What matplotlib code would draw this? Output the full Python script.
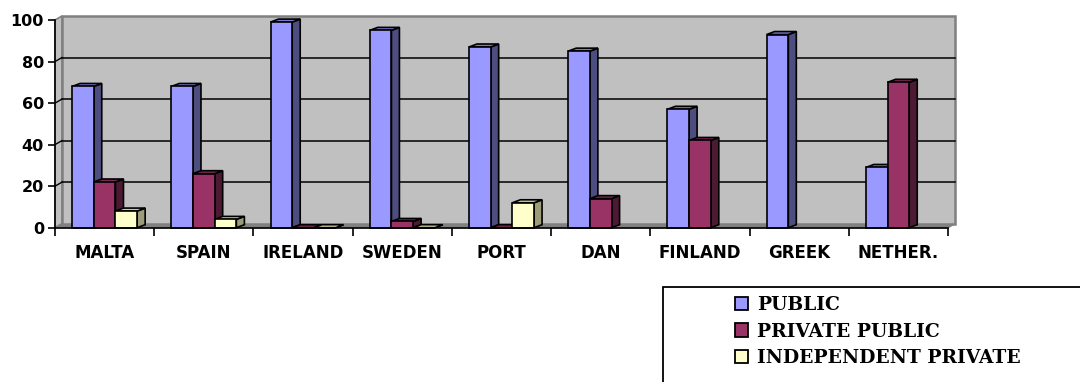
import matplotlib.pyplot as plt
from matplotlib.patches import Polygon, Rectangle, Patch

countries = ["MALTA", "SPAIN", "IRELAND", "SWEDEN", "PORT", "DAN", "FINLAND", "GREEK", "NETHER."]
public = [68, 68, 99, 95, 87, 85, 57, 93, 29]
private_public = [22, 26, 0, 3, 0, 14, 42, None, 70]
independent_private = [8, 4, 0, 0, 12, None, None, None, None]

series = [
    ("PUBLIC", public, "#9999FF", "#4D4D80", "#7A7ACC"),
    ("PRIVATE PUBLIC", private_public, "#993366", "#4D1A33", "#7A2952"),
    ("INDEPENDENT PRIVATE", independent_private, "#FFFFCC", "#9C9C7A", "#CCCCA3"),
]

SANS = "DejaVu Sans"
SERIF = "DejaVu Serif"

W, H, DPI = 10.8, 3.82, 100
fig = plt.figure(figsize=(W, H), dpi=DPI)

# axes box in pixels: front axis runs 55..948, value 0 at y=227.7, 100 at y=20
L, R, Y0, Y100 = 55, 948, 227.7, 20
ax = fig.add_axes([L / 1080, (382 - Y0) / 382, (R - L) / 1080, (Y0 - Y100) / 382])
n = len(countries)
ax.set_xlim(-0.5, n - 0.5)
ax.set_ylim(0, 100)

px_x = n / (R - L)            # data units per pixel, horizontal
px_y = 100 / (Y0 - Y100)      # data units per pixel, vertical

# wall depth and bar depth offsets
wdx, wdy = 7 * px_x, 4 * px_y
bdx, bdy = 8 * px_x, 3 * px_y

x0, x1 = -0.5, n - 0.5
kw = dict(clip_on=False)
# left side wall, floor, back wall
ax.add_patch(Polygon([(x0, 0), (x0, 100), (x0 + wdx, 100 + wdy), (x0 + wdx, wdy)],
                     closed=True, fc="#C0C0C0", ec="#808080", lw=1.2, zorder=0, **kw))
ax.add_patch(Polygon([(x0, 0), (x1, 0), (x1 + wdx, wdy), (x0 + wdx, wdy)],
                     closed=True, fc="#808080", ec="#808080", lw=1, zorder=0, **kw))
ax.add_patch(Rectangle((x0 + wdx, wdy), x1 - x0, 100, fc="#C0C0C0", ec="#808080",
                       lw=1.8, zorder=0, **kw))

# gridlines on back wall and short diagonals on the side wall
for v in range(20, 100, 20):
    ax.plot([x0 + wdx, x1 + wdx], [v + wdy, v + wdy], color="black", lw=1.1, zorder=1, **kw)
    ax.plot([x0, x0 + wdx], [v, v + wdy], color="black", lw=1.0, zorder=1, **kw)

# 3D columns
bw = 21.7 * px_x
group = 3 * bw
z = 2
for i in range(n):
    for k, (name, vals, c_front, c_side, c_top) in enumerate(series):
        v = vals[i]
        if v is None:
            continue
        xl = i - group / 2 + k * bw
        xr = xl + bw
        ax.add_patch(Polygon([(xr, 0), (xr, v), (xr + bdx, v + bdy), (xr + bdx, bdy)],
                             closed=True, fc=c_side, ec="black", lw=1.2, zorder=z, **kw))
        ax.add_patch(Polygon([(xl, v), (xr, v), (xr + bdx, v + bdy), (xl + bdx, v + bdy)],
                             closed=True, fc=c_top, ec="black", lw=1.2, zorder=z, **kw))
        ax.add_patch(Rectangle((xl, 0), bw, v, fc=c_front, ec="black", lw=1.2,
                               zorder=z + 0.5, **kw))
        z += 1

for s in ("top", "right"):
    ax.spines[s].set_visible(False)
ax.patch.set_visible(False)
for s in ("left", "bottom"):
    ax.spines[s].set_linewidth(1.2)
    ax.spines[s].set_zorder(100)

ax.set_yticks(range(0, 101, 20))
ax.tick_params(axis="y", length=5, width=1.2, pad=3)
ax.set_yticklabels([str(v) for v in range(0, 101, 20)], fontsize=11.5,
                   fontweight="bold", family=SANS)

ax.set_xticks(range(n))
ax.set_xticklabels(countries, fontsize=12, fontweight="bold", family=SANS)
ax.set_xticks([i - 0.5 for i in range(n + 1)], minor=True)
ax.tick_params(axis="x", which="major", length=0, pad=12)
ax.tick_params(axis="x", which="minor", length=6, width=1.2)

# legend box running off the lower right corner
fig.patches.append(Rectangle((663 / 1080, -0.05), 0.5, (382 - 286.7) / 382 + 0.05,
                             transform=fig.transFigure, fc="white", ec="black", lw=1.3))
handles = [Patch(fc=c, ec="black", lw=1.3) for _, _, c, _, _ in series]
fig.legend(handles, [s[0] for s in series], loc="upper left",
           bbox_to_anchor=(722 / 1080, 1 - 283 / 382), frameon=False,
           prop={"family": SERIF, "weight": "bold", "size": 13.5},
           handlelength=0.7, handleheight=0.7, handletextpad=0.45,
           labelspacing=0.45, borderpad=0.2)

fig.savefig("out.png", dpi=DPI, facecolor="white")
